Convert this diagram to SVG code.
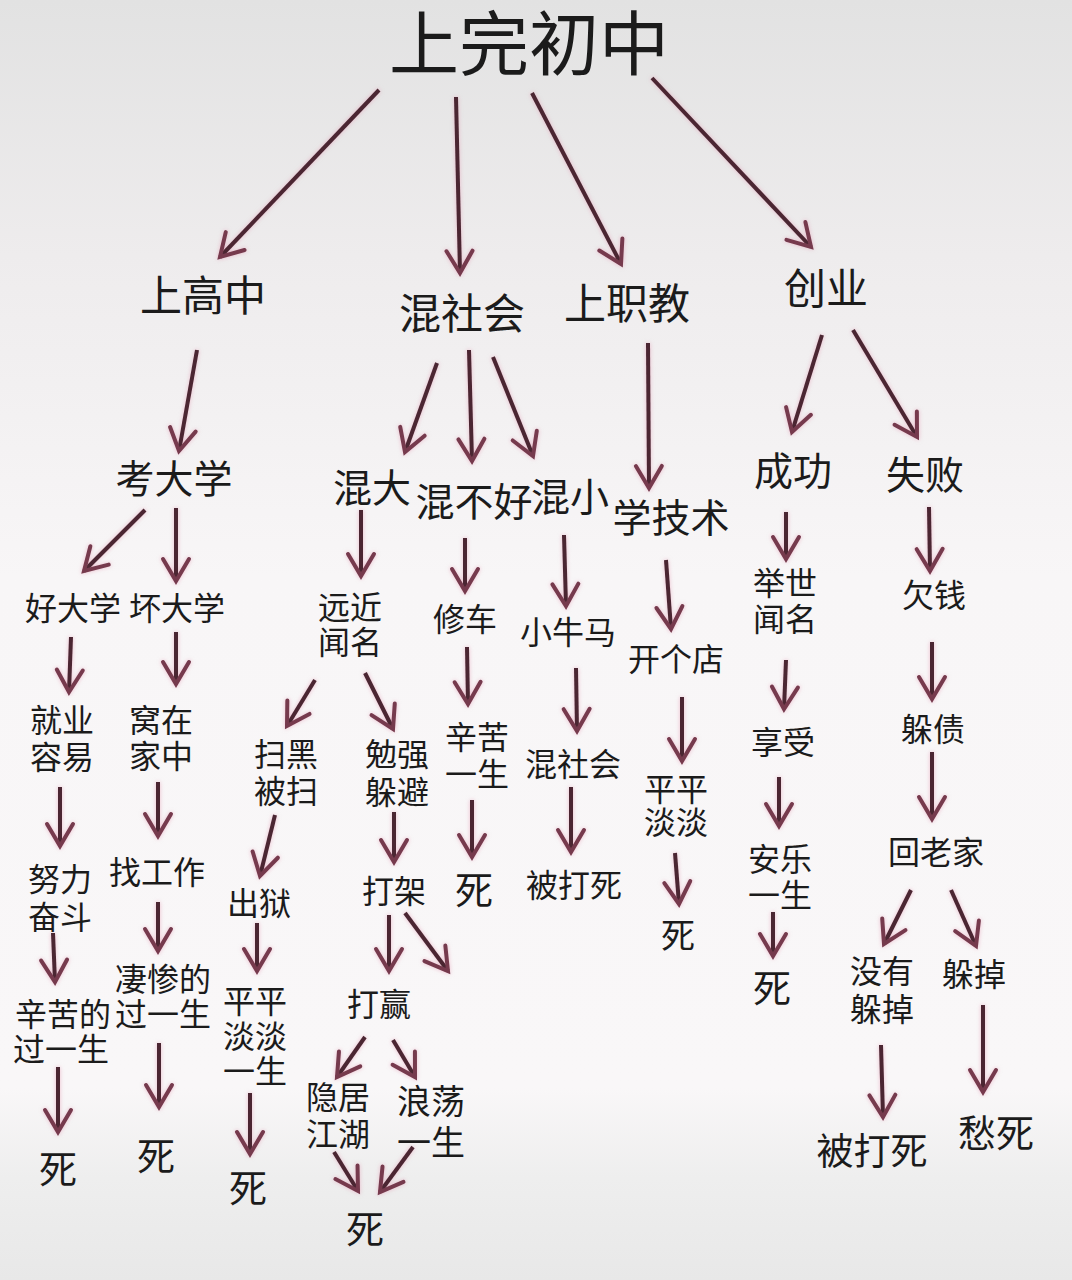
<svg xmlns="http://www.w3.org/2000/svg" width="1072" height="1280" viewBox="0 0 1072 1280">
<defs>
<linearGradient id="bg" x1="0" y1="0" x2="0" y2="1">
<stop offset="0" stop-color="#e2e2e2"/>
<stop offset="0.2" stop-color="#eeeced"/>
<stop offset="0.45" stop-color="#f8f6f7"/>
<stop offset="0.85" stop-color="#f9f7f8"/>
<stop offset="0.92" stop-color="#eeeeee"/>
<stop offset="1" stop-color="#e8e8e8"/>
</linearGradient>
<marker id="ah" markerUnits="userSpaceOnUse" markerWidth="40" markerHeight="40" viewBox="-26 -20 30 40" refX="0" refY="0" orient="auto" overflow="visible">
<path d="M-22,-13 L0,0 L-22,13" fill="none" stroke="#763a4d" stroke-width="4" stroke-linecap="round" stroke-linejoin="miter"/>
</marker>
</defs>
<style>
text{font-family:"Noto Sans CJK SC","Noto Sans",sans-serif;fill:#1b1b1b;text-anchor:middle;dominant-baseline:central}
.t0{font-size:70px}
.t1{font-size:42px}
.t2{font-size:39px}
.t3{font-size:32px}
.td{font-size:38px}
#connectors line{stroke:#4b2632;stroke-width:4;fill:none;marker-end:url(#ah);filter:drop-shadow(0 0 2px rgba(225,140,170,0.55))}
</style>
<rect width="1072" height="1280" fill="url(#bg)"/>
<g id="connectors">
<line x1="379" y1="90" x2="220" y2="257"/>
<line x1="456" y1="97" x2="460" y2="273"/>
<line x1="532" y1="93" x2="621" y2="264"/>
<line x1="652" y1="78" x2="811" y2="247"/>
<line x1="197" y1="350" x2="179" y2="451"/>
<line x1="437" y1="363" x2="405" y2="452"/>
<line x1="469" y1="350" x2="472" y2="461"/>
<line x1="493" y1="357" x2="533" y2="456"/>
<line x1="648" y1="343" x2="649" y2="488"/>
<line x1="822" y1="335" x2="792" y2="432"/>
<line x1="853" y1="330" x2="917" y2="437"/>
<line x1="145" y1="510" x2="84" y2="571"/>
<line x1="176" y1="508" x2="176" y2="581"/>
<line x1="71" y1="637" x2="69" y2="692"/>
<line x1="176" y1="632" x2="176" y2="684"/>
<line x1="60" y1="787" x2="60" y2="846"/>
<line x1="158" y1="782" x2="158" y2="836"/>
<line x1="53" y1="933" x2="55" y2="982"/>
<line x1="158" y1="902" x2="158" y2="951"/>
<line x1="58" y1="1067" x2="58" y2="1132"/>
<line x1="159" y1="1043" x2="159" y2="1107"/>
<line x1="361" y1="510" x2="361" y2="576"/>
<line x1="315" y1="680" x2="287" y2="726"/>
<line x1="365" y1="673" x2="393" y2="729"/>
<line x1="275" y1="815" x2="260" y2="876"/>
<line x1="394" y1="812" x2="394" y2="862"/>
<line x1="257" y1="923" x2="257" y2="971"/>
<line x1="250" y1="1093" x2="250" y2="1154"/>
<line x1="389" y1="915" x2="389" y2="971"/>
<line x1="405" y1="913" x2="448" y2="971"/>
<line x1="365" y1="1037" x2="337" y2="1077"/>
<line x1="393" y1="1040" x2="415" y2="1077"/>
<line x1="334" y1="1152" x2="358" y2="1191"/>
<line x1="413" y1="1147" x2="380" y2="1192"/>
<line x1="465" y1="538" x2="465" y2="591"/>
<line x1="467" y1="647" x2="468" y2="704"/>
<line x1="472" y1="800" x2="472" y2="857"/>
<line x1="564" y1="535" x2="566" y2="606"/>
<line x1="576" y1="668" x2="577" y2="731"/>
<line x1="571" y1="787" x2="571" y2="852"/>
<line x1="666" y1="560" x2="671" y2="629"/>
<line x1="682" y1="697" x2="682" y2="761"/>
<line x1="675" y1="853" x2="679" y2="904"/>
<line x1="786" y1="512" x2="786" y2="559"/>
<line x1="786" y1="660" x2="784" y2="709"/>
<line x1="779" y1="777" x2="779" y2="826"/>
<line x1="773" y1="912" x2="773" y2="956"/>
<line x1="929" y1="507" x2="930" y2="571"/>
<line x1="932" y1="642" x2="932" y2="699"/>
<line x1="932" y1="752" x2="932" y2="819"/>
<line x1="911" y1="890" x2="884" y2="944"/>
<line x1="951" y1="890" x2="976" y2="946"/>
<line x1="881" y1="1045" x2="883" y2="1117"/>
<line x1="983" y1="1005" x2="983" y2="1092"/>
</g>
<g id="n-root"><text class="t0" x="529" y="39">上完初中</text></g>
<g id="n-gaozhong"><text class="t1" x="203" y="292">上高中</text></g>
<g id="n-hunshehui"><text class="t1" x="462" y="310">混社会</text></g>
<g id="n-zhijiao"><text class="t1" x="627" y="300">上职教</text></g>
<g id="n-chuangye"><text class="t1" x="826" y="285">创业</text></g>
<g id="n-kaodaxue"><text class="t2" x="174" y="476">考大学</text></g>
<g id="n-hunda"><text class="t2" x="372" y="485">混大</text></g>
<g id="n-hunbuhao"><text class="t2" x="474" y="499">混不好</text></g>
<g id="n-hunxiao"><text class="t2" x="570" y="494">混小</text></g>
<g id="n-xuejishu"><text class="t2" x="671" y="515">学技术</text></g>
<g id="n-chenggong"><text class="t2" x="793" y="468">成功</text></g>
<g id="n-shibai"><text class="t2" x="925" y="472">失败</text></g>
<g id="n-haodaxue"><text class="t3" x="73" y="606">好大学</text></g>
<g id="n-huaidaxue"><text class="t3" x="177" y="606">坏大学</text></g>
<g id="n-jiuye"><text class="t3"><tspan x="62" y="718">就业</tspan><tspan x="62" y="755">容易</tspan></text></g>
<g id="n-wozai"><text class="t3"><tspan x="161" y="718">窝在</tspan><tspan x="161" y="754">家中</tspan></text></g>
<g id="n-nuli"><text class="t3"><tspan x="60" y="877">努力</tspan><tspan x="60" y="915">奋斗</tspan></text></g>
<g id="n-zhaogongzuo"><text class="t3" x="157" y="870">找工作</text></g>
<g id="n-xinku1"><text class="t3"><tspan x="63" y="1012">辛苦的</tspan><tspan x="61" y="1047">过一生</tspan></text></g>
<g id="n-qican"><text class="t3"><tspan x="163" y="977">凄惨的</tspan><tspan x="163" y="1012">过一生</tspan></text></g>
<g id="n-si1"><text class="td" x="58" y="1166">死</text></g>
<g id="n-si2"><text class="td" x="156" y="1153">死</text></g>
<g id="n-yuanjin"><text class="t3"><tspan x="350" y="605">远近</tspan><tspan x="350" y="640">闻名</tspan></text></g>
<g id="n-saohei"><text class="t3"><tspan x="286" y="752">扫黑</tspan><tspan x="286" y="789">被扫</tspan></text></g>
<g id="n-mianqiang"><text class="t3"><tspan x="397" y="752">勉强</tspan><tspan x="397" y="790">躲避</tspan></text></g>
<g id="n-chuyu"><text class="t3" x="259" y="901">出狱</text></g>
<g id="n-pingdan1"><text class="t3"><tspan x="255" y="999">平平</tspan><tspan x="255" y="1034">淡淡</tspan><tspan x="255" y="1069">一生</tspan></text></g>
<g id="n-si3"><text class="td" x="248" y="1185">死</text></g>
<g id="n-dajia"><text class="t3" x="394" y="889">打架</text></g>
<g id="n-daying"><text class="t3" x="379" y="1002">打赢</text></g>
<g id="n-yinju"><text class="t3"><tspan x="338" y="1095">隐居</tspan><tspan x="338" y="1132">江湖</tspan></text></g>
<g id="n-langdang"><text class="t3" style="font-size:34px"><tspan x="431" y="1099">浪荡</tspan><tspan x="431" y="1140">一生</tspan></text></g>
<g id="n-si4"><text class="td" x="365" y="1226">死</text></g>
<g id="n-xiuche"><text class="t3" x="465" y="617">修车</text></g>
<g id="n-xinku2"><text class="t3"><tspan x="477" y="735">辛苦</tspan><tspan x="477" y="772">一生</tspan></text></g>
<g id="n-si5"><text class="td" x="474" y="887">死</text></g>
<g id="n-xiaoniuma"><text class="t3" x="568" y="630">小牛马</text></g>
<g id="n-hunshehui2"><text class="t3" x="573" y="762">混社会</text></g>
<g id="n-beidasi1"><text class="t3" x="574" y="883">被打死</text></g>
<g id="n-kaidian"><text class="t3" x="676" y="657">开个店</text></g>
<g id="n-pingdan2"><text class="t3"><tspan x="676" y="787">平平</tspan><tspan x="676" y="820">淡淡</tspan></text></g>
<g id="n-si6"><text class="t3" style="font-size:34px" x="678" y="933">死</text></g>
<g id="n-jushi"><text class="t3"><tspan x="785" y="581">举世</tspan><tspan x="785" y="617">闻名</tspan></text></g>
<g id="n-xiangshou"><text class="t3" x="783" y="740">享受</text></g>
<g id="n-anle"><text class="t3"><tspan x="780" y="857">安乐</tspan><tspan x="780" y="893">一生</tspan></text></g>
<g id="n-si7"><text class="td" x="772" y="985">死</text></g>
<g id="n-qianqian"><text class="t3" x="934" y="593">欠钱</text></g>
<g id="n-duozhai"><text class="t3" x="933" y="727">躲债</text></g>
<g id="n-huilaojia"><text class="t3" x="936" y="850">回老家</text></g>
<g id="n-meiyou"><text class="t3"><tspan x="882" y="969">没有</tspan><tspan x="882" y="1007">躲掉</tspan></text></g>
<g id="n-duodiao"><text class="t3" x="974" y="972">躲掉</text></g>
<g id="n-beidasi2"><text class="td" style="font-size:37px" x="872" y="1149">被打死</text></g>
<g id="n-chousi"><text class="td" x="996" y="1130">愁死</text></g>
</svg>
